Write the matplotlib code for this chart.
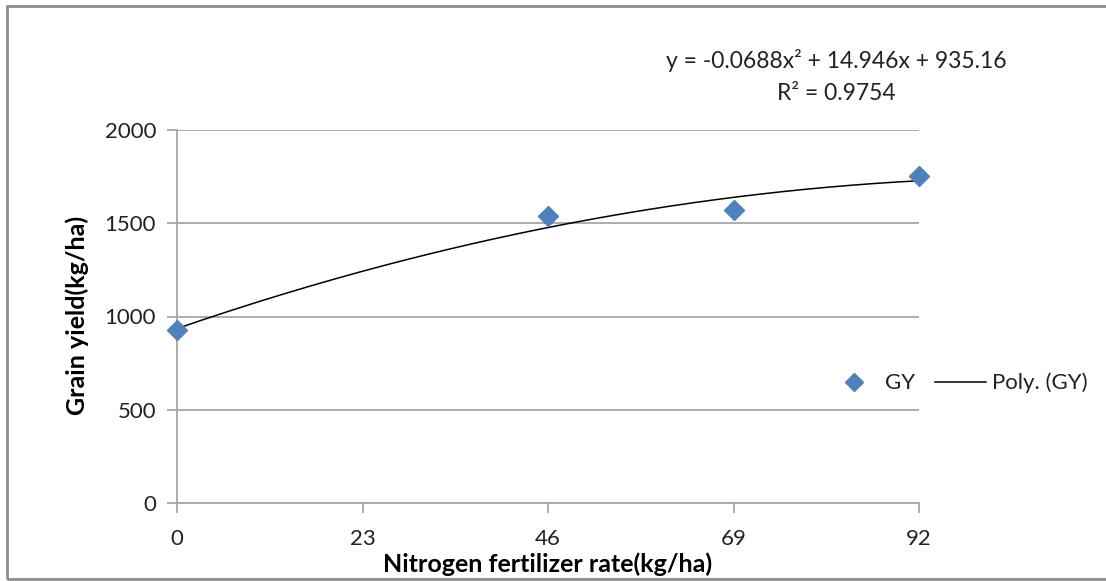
import numpy as np
import matplotlib
matplotlib.use("Agg")
import matplotlib.pyplot as plt
from matplotlib.lines import Line2D
from matplotlib.patches import Rectangle

# Grain yield response to nitrogen
n_rate = [0, 46, 69, 92]
grain_yield = [930, 1540, 1570, 1755]
x_ticks = [0, 23, 46, 69, 92]
y_ticks = [0, 500, 1000, 1500, 2000]
poly_coef = [-0.0688, 14.946, 935.16]
r_squared = 0.9754

plt.rcParams['font.family'] = ['Lato', 'DejaVu Sans']

W, H = 1106, 581
fig = plt.figure(figsize=(W / 100, H / 100), dpi=100)
ax = fig.add_axes([177 / W, 1 - 503 / H, (919 - 177) / W, (503 - 130) / H])

blue = '#4F81BD'
grid_c = '#A6A6A6'

xs = np.linspace(0, 92, 200)
ys = np.polyval(poly_coef, xs)
ax.plot(xs, ys, color='black', lw=1.1, zorder=3)
ax.plot(n_rate, grain_yield, linestyle='none', marker='D', ms=10.5,
        color=blue, zorder=4, clip_on=False)

ax.set_xlim(0, 92)
ax.set_ylim(0, 2000)
ax.set_xticks(x_ticks)
ax.set_yticks(y_ticks)
ax.yaxis.grid(True, color=grid_c, lw=1.3)
ax.set_axisbelow(True)
for s in ['top', 'right']:
    ax.spines[s].set_visible(False)
for s in ['left', 'bottom']:
    ax.spines[s].set_color(grid_c)
    ax.spines[s].set_linewidth(1.3)
ax.tick_params(axis='both', colors=grid_c, length=7, width=1.3,
               labelsize=16, labelcolor='#222222')
ax.tick_params(axis='y', pad=8)
ax.tick_params(axis='x', pad=12)

ax.set_xlabel('Nitrogen fertilizer rate(kg/ha)', fontsize=18,
              fontweight='bold', va='center')
ax.xaxis.set_label_coords((548 - 177) / (919 - 177), -(564 - 503) / (503 - 130))
ax.set_ylabel('Grain yield(kg/ha)', fontsize=18, fontweight='bold', va='center')
ax.yaxis.set_label_coords(-(177 - 77) / (919 - 177), (503 - 315) / (503 - 130))

eq = 'y = -{:.4f}x\u00b2 + {:.3f}x + {:.2f}'.format(-poly_coef[0], poly_coef[1], poly_coef[2])
fig.text(836 / W, 1 - 61 / H, eq, ha='center', va='center', fontsize=16.5,
         color='#222222')
fig.text(836 / W, 1 - 94 / H, 'R\u00b2 = {:.4f}'.format(r_squared),
         ha='center', va='center', fontsize=16.5, color='#222222')

handles = [Line2D([], [], linestyle='none', marker='D', ms=9, color=blue),
           Line2D([], [], color='black', lw=1.1)]
leg = fig.legend(handles, ['GY', 'Poly. (GY)'], loc='center',
                 bbox_to_anchor=(958 / W, 1 - 383 / H), ncol=2, frameon=False,
                 fontsize=16, handlelength=2.3, columnspacing=0.9,
                 handletextpad=0.25)
for t in leg.get_texts():
    t.set_color('#222222')

# chart area border
fig.patches.append(Rectangle((7 / W, 1 - 579 / H), 1.2, (579 - 6) / H,
                             transform=fig.transFigure, fill=False,
                             edgecolor='#8C8C8C', lw=2, zorder=0))

fig.savefig('out.png', dpi=100)
